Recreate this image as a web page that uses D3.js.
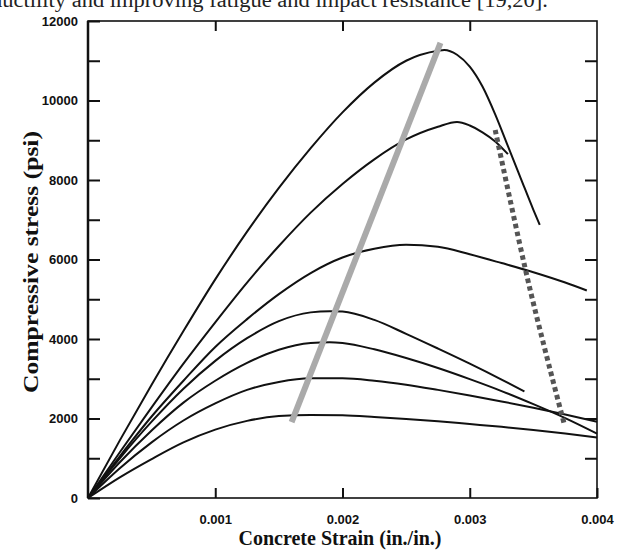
<!DOCTYPE html>
<html><head>
<meta charset="utf-8">
<script src="https://d3js.org/d3.v7.min.js"></script>
<style>
  body { margin: 0; background: #fff; }
  .tick text { font-family: "Liberation Sans", Arial, sans-serif; font-weight: bold; font-size: 13px; fill: #111; }
  .axis .domain { stroke: none; }
  .axis line { stroke: #111; stroke-width: 2; }
  .curve { fill: none; stroke: #111; stroke-width: 2; }
</style>
</head>
<body>
<svg id="chart" width="622" height="552"></svg>
<script>

// stress-strain curves, [strain, stress psi]
const curve1 = [[0,0],[0.00025,1450],[0.0005,2850],[0.00075,4200],[0.001,5500],[0.00125,6700],[0.0015,7800],[0.00175,8800],[0.002,9700],[0.00225,10450],[0.0025,11000],[0.00275,11250],[0.0028,11270],[0.0029,11150],[0.003,10850],[0.0031,10350],[0.0032,9650],[0.0033,8850],[0.0034,8050],[0.0035,7250],[0.00355,6870]];
const curve2 = [[0,0],[0.00025,1150],[0.0005,2280],[0.00075,3380],[0.001,4420],[0.00125,5420],[0.0015,6340],[0.00175,7180],[0.002,7900],[0.00225,8520],[0.0025,9020],[0.00275,9340],[0.0029,9460],[0.003,9370],[0.0031,9200],[0.0032,8970],[0.0033,8650]];
const curve3 = [[0,0],[0.00025,1050],[0.0005,2050],[0.00075,2950],[0.001,3800],[0.00125,4500],[0.0015,5130],[0.00175,5660],[0.002,6050],[0.00225,6270],[0.0025,6370],[0.00275,6320],[0.003,6130],[0.00325,5910],[0.0035,5680],[0.00375,5420],[0.00392,5220]];
const curve4 = [[0,0],[0.00025,1000],[0.0005,1920],[0.00075,2750],[0.001,3450],[0.00125,4020],[0.0015,4450],[0.00175,4670],[0.0019,4700],[0.002,4690],[0.00225,4480],[0.0025,4130],[0.00275,3760],[0.003,3380],[0.00325,2980],[0.00343,2680]];
const curve5 = [[0,0],[0.00025,900],[0.0005,1700],[0.00075,2400],[0.001,2950],[0.00125,3400],[0.0015,3730],[0.00175,3900],[0.0019,3920],[0.002,3900],[0.00225,3740],[0.0025,3520],[0.00275,3270],[0.003,2990],[0.00325,2690],[0.0035,2360],[0.00375,2010],[0.004,1620]];
const curve6 = [[0,0],[0.00025,750],[0.0005,1400],[0.00075,1950],[0.001,2380],[0.00125,2720],[0.0015,2920],[0.00175,3010],[0.002,3010],[0.00225,2950],[0.0025,2850],[0.00275,2720],[0.003,2580],[0.00325,2430],[0.0035,2270],[0.00375,2100],[0.004,1920]];
const curve7 = [[0,0],[0.00025,520],[0.0005,980],[0.00075,1400],[0.001,1720],[0.00125,1940],[0.0015,2060],[0.00175,2090],[0.002,2080],[0.00225,2040],[0.0025,1990],[0.00275,1930],[0.003,1860],[0.00325,1790],[0.0035,1710],[0.00375,1620],[0.004,1520]];
const curves = [curve1, curve2, curve3, curve4, curve5, curve6, curve7];

// peak-strain trend (gray) and ultimate-strain trend (dotted)
const peakLine = [[0.0016,1910],[0.00277,11450]];
const ultimateLine = [[0.0032,9260],[0.00347,5300],[0.00374,1890]];

const yTicks = d3.range(0, 12001, 1000);
const xTicks = [0.001, 0.002, 0.003, 0.004];

const svg = d3.select("#chart");
const plotLeft = 88, plotRight = 597, plotTop = 21, plotBottom = 498;

const x = d3.scaleLinear().domain([0, 0.004]).range([plotLeft, plotRight]);
const y = d3.scaleLinear().domain([0, 12000]).range([plotBottom, plotTop]);

// text line from the page above the figure (cut at the top edge, as in the scan)
svg.append("text")
  .attr("x", -9).attr("y", 7)
  .attr("textLength", 557)
  .attr("lengthAdjust", "spacingAndGlyphs")
  .style("font-family", "'Liberation Serif', 'Times New Roman', serif")
  .style("font-size", "20px")
  .style("fill", "#222")
  .text("ductility and improving fatigue and impact resistance [19,20].");

// axes, ticks pointing inward
svg.append("g").attr("class", "axis")
  .attr("transform", "translate(" + plotLeft + ",0)")
  .call(d3.axisLeft(y).tickValues(yTicks).tickSize(-12).tickPadding(10)
    .tickFormat(d => d % 2000 === 0 ? d : ""));
svg.append("g").attr("class", "axis")
  .attr("transform", "translate(" + plotRight + ",0)")
  .call(d3.axisRight(y).tickValues(yTicks.slice(1, -1)).tickSize(-12).tickFormat(""));
svg.append("g").attr("class", "axis")
  .attr("transform", "translate(0," + plotBottom + ")")
  .call(d3.axisBottom(x).tickValues(xTicks).tickSize(-10).tickPadding(17)
    .tickFormat(d3.format(".3f")));
svg.append("g").attr("class", "axis")
  .attr("transform", "translate(0," + plotTop + ")")
  .call(d3.axisTop(x).tickValues(xTicks.slice(0, -1)).tickSize(-10).tickFormat(""));

// frame
svg.append("rect")
  .attr("x", plotLeft).attr("y", plotTop)
  .attr("width", plotRight - plotLeft).attr("height", plotBottom - plotTop)
  .attr("fill", "none").attr("stroke", "#111").attr("stroke-width", 1.6);
svg.append("line")
  .attr("x1", plotLeft).attr("x2", plotLeft).attr("y1", plotTop).attr("y2", plotBottom)
  .attr("stroke", "#111").attr("stroke-width", 2.5);

const line = d3.line()
  .x(d => x(d[0]))
  .y(d => y(d[1]))
  .curve(d3.curveMonotoneX);

svg.append("g").selectAll("path")
  .data(curves)
  .join("path")
  .attr("class", "curve")
  .attr("d", line);

svg.append("path")
  .attr("d", d3.line().x(d => x(d[0])).y(d => y(d[1]))(peakLine))
  .attr("fill", "none")
  .attr("stroke", "#aaa")
  .attr("stroke-width", 6);

svg.append("path")
  .attr("d", d3.line().x(d => x(d[0])).y(d => y(d[1])).curve(d3.curveCatmullRom)(ultimateLine))
  .attr("fill", "none")
  .attr("stroke", "#555")
  .attr("stroke-width", 5)
  .attr("stroke-dasharray", "4.5,3.5");

// axis titles
svg.append("text")
  .attr("x", 340).attr("y", 545)
  .attr("text-anchor", "middle")
  .style("font-family", "'Liberation Serif', 'Times New Roman', serif")
  .style("font-weight", "bold")
  .style("font-size", "20px")
  .style("fill", "#111")
  .text("Concrete Strain (in./in.)");

svg.append("text")
  .attr("transform", "translate(38,262) rotate(-90)")
  .attr("text-anchor", "middle")
  .attr("textLength", 262)
  .attr("lengthAdjust", "spacingAndGlyphs")
  .style("font-family", "'Liberation Serif', 'Times New Roman', serif")
  .style("font-weight", "bold")
  .style("font-size", "21px")
  .style("fill", "#111")
  .text("Compressive stress (psi)");

</script>
</body>
</html>
